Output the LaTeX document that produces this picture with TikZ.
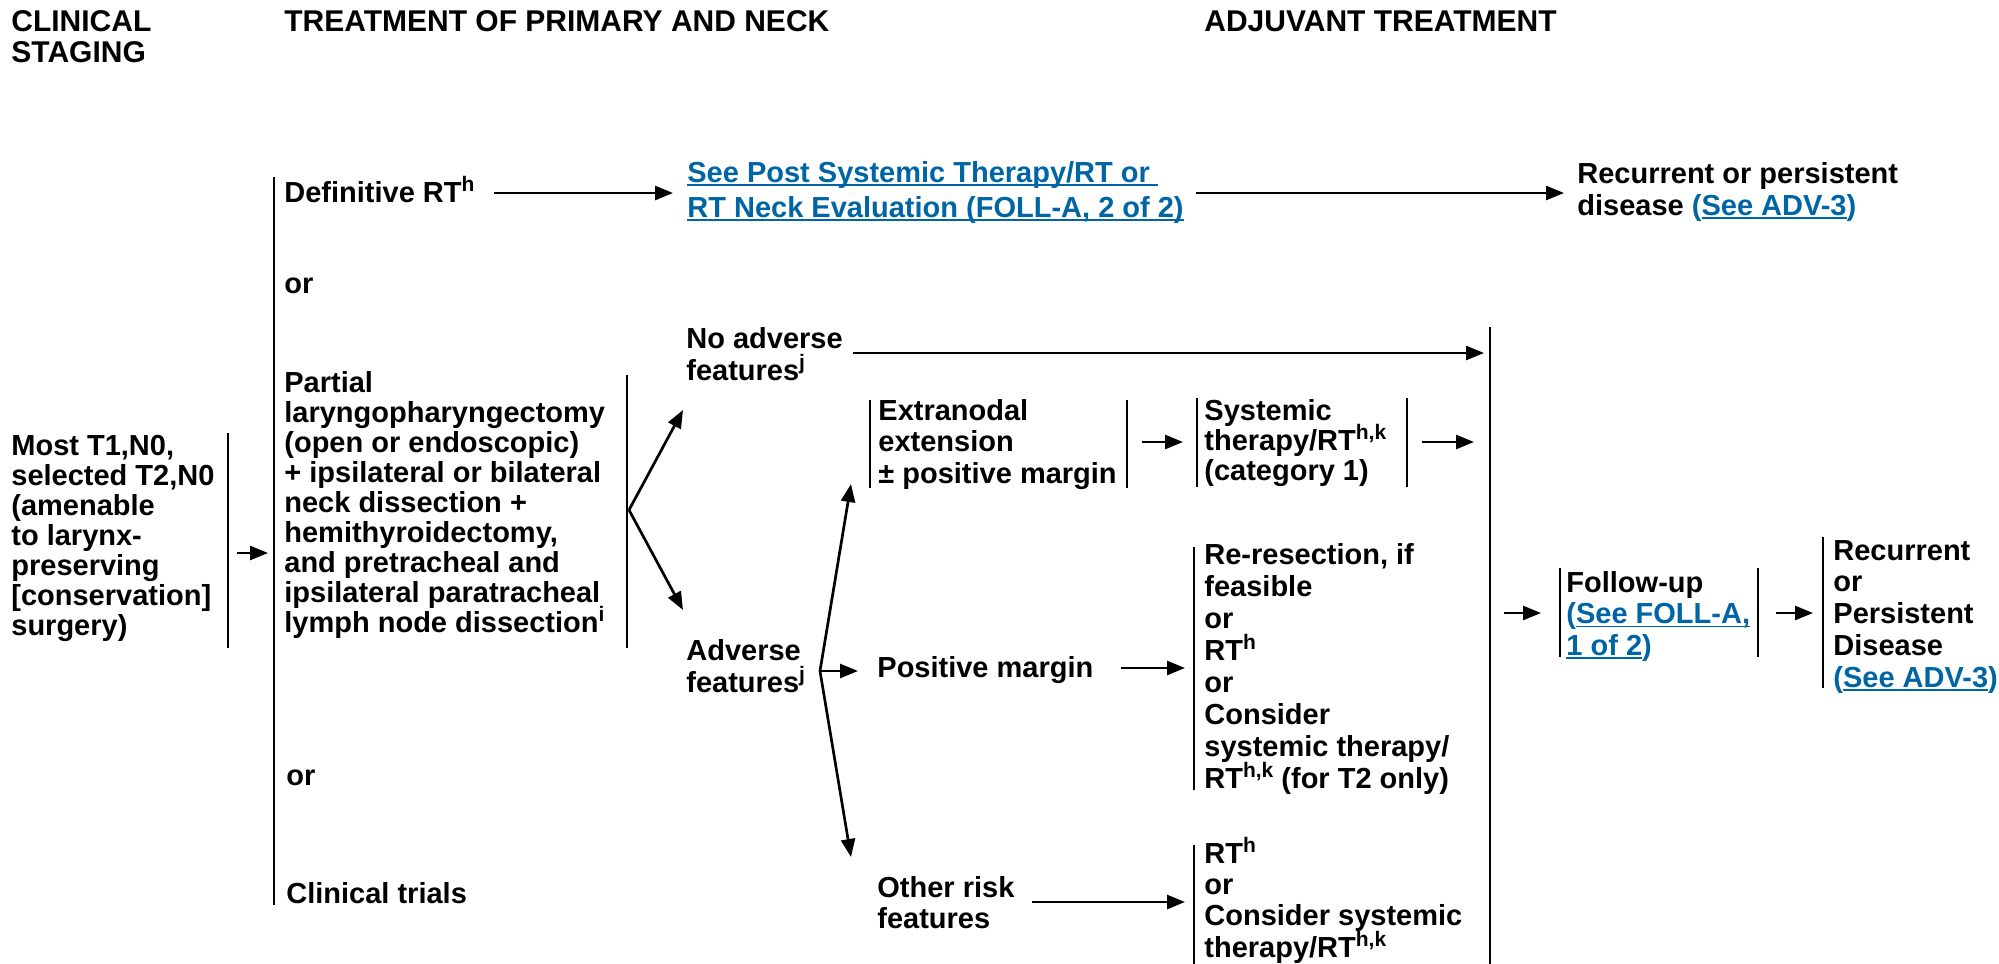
\documentclass[tikz,border=0pt]{standalone}
\usepackage{fontspec}
\setmainfont{Liberation Sans}
\usetikzlibrary{arrows.meta}
\definecolor{nccnblue}{RGB}{0,101,164}
\newsavebox\ulbox
\newcommand\ulink[1]{\sbox\ulbox{#1}\rlap{\rule[-1.9pt]{\wd\ulbox}{0.85pt}}\usebox\ulbox}
\newcommand\supx[1]{\raisebox{5.5pt}[0pt][0pt]{\fontsize{10.5}{10.5}\selectfont #1}}
\begin{document}
\begin{tikzpicture}[x=0.5pt,y=-0.5pt,
  txt/.style={anchor=base west, inner sep=0pt, align=left, font=\bfseries\fontsize{14.5}{15.5}\selectfont},
  lsp/.style={font=\bfseries\fontsize{14.5}{#1}\selectfont},
  hdr/.style={anchor=base west, inner sep=0pt, align=left, font=\bfseries\fontsize{15}{15.5}\selectfont},
  bar/.style={line width=1.15pt},
  arr/.style={line width=1.35pt,-{Triangle[length=9pt,width=7pt]}},
]
\useasboundingbox (0,0) rectangle (1999,964);

% headers (multi-line nodes are placed at the baseline of their last line)
\node[hdr] (hstage) at (11,62) {CLINICAL\\STAGING};
\node[hdr] (hprim) at (284,31) {TREATMENT OF PRIMARY AND NECK};
\node[hdr] (hadj) at (1204,31) {ADJUVANT TREATMENT};

% text nodes
\node[txt] (def) at (284,202) {Definitive RT\supx{h}};
\node[txt, lsp=17.5, text=nccnblue] (post) at (687,217) {\ulink{See Post Systemic Therapy/RT or~}\\\ulink{RT Neck Evaluation (FOLL-A, 2 of 2)}};
\node[txt, lsp=16] (recpers) at (1577,215) {Recurrent or persistent\\disease {\color{nccnblue}(\ulink{See ADV-3})}};
\node[txt] (or1) at (284,293) {or};
\node[txt, lsp=15] (most) at (11,635) {Most T1,N0,\\selected T2,N0\\(amenable\\to larynx-\\preserving\\{[}conservation{]}\\surgery)};
\node[txt, lsp=15] (partial) at (284,632) {Partial\\laryngopharyngectomy\\(open or endoscopic)\\+ ipsilateral or bilateral\\neck dissection +\\hemithyroidectomy,\\and pretracheal and\\ipsilateral paratracheal\\lymph node dissection\supx{i}};
\node[txt, lsp=16] (noadv) at (686,380) {No adverse\\features\supx{j}};
\node[txt, lsp=16] (adv) at (686,692) {Adverse\\features\supx{j}};
\node[txt, lsp=15.75] (extra) at (878,483) {Extranodal\\extension\\± positive margin};
\node[txt, lsp=15] (sys) at (1204,480) {Systemic\\therapy/RT\supx{h,k}\\(category 1)};
\node[txt] (posm) at (877,677) {Positive margin};
\node[txt, lsp=15.93] (reres) at (1204,788) {Re-resection, if\\feasible\\or\\RT\supx{h}\\or\\Consider\\systemic therapy/\\RT\supx{h,k} (for T2 only)};
\node[txt, lsp=15.5] (other) at (877,928) {Other risk\\features};
\node[txt, lsp=15.65] (rtb) at (1204,957) {RT\supx{h}\\or\\Consider systemic\\therapy/RT\supx{h,k}};
\node[txt] (or2) at (286,785) {or};
\node[txt] (trials) at (286,903) {Clinical trials};
\node[txt, lsp=15.75] (foll) at (1566,655) {Follow-up\\{\color{nccnblue}(\ulink{See FOLL-A,}}\\{\color{nccnblue}\ulink{1 of 2})}};
\node[txt, lsp=15.85] (recdis) at (1833,687) {Recurrent\\or\\Persistent\\Disease\\{\color{nccnblue}(\ulink{See ADV-3})}};

% bars
\coordinate (bdT) at (274,177); \coordinate (bdB) at (274,905);
\coordinate (bmT) at (228,433); \coordinate (bmB) at (228,648);
\coordinate (bpT) at (627,375); \coordinate (bpB) at (627,648);
\coordinate (bbT) at (1490,327); \coordinate (bbB) at (1490,964);
\coordinate (beLT) at (870,400); \coordinate (beLB) at (870,488);
\coordinate (beRT) at (1127,400); \coordinate (beRB) at (1127,488);
\coordinate (bsLT) at (1197,398); \coordinate (bsLB) at (1197,487);
\coordinate (bsRT) at (1407,398); \coordinate (bsRB) at (1407,487);
\coordinate (brT) at (1194,547); \coordinate (brB) at (1194,790);
\coordinate (btT) at (1194,845); \coordinate (btB) at (1194,964);
\coordinate (bfLT) at (1560,568); \coordinate (bfLB) at (1560,657);
\coordinate (bfRT) at (1758,568); \coordinate (bfRB) at (1758,657);
\coordinate (bcT) at (1823,537); \coordinate (bcB) at (1823,688);
\foreach \a/\b in {bdT/bdB,bmT/bmB,bpT/bpB,bbT/bbB,beLT/beLB,beRT/beRB,bsLT/bsLB,bsRT/bsRB,brT/brB,btT/btB,bfLT/bfLB,bfRT/bfRB,bcT/bcB}
  \draw[bar] (\a) -- (\b);

% arrow endpoints
\coordinate (a1s) at (494,193);  \coordinate (a1e) at (673,193);
\coordinate (a2s) at (1196,193); \coordinate (a2e) at (1564,193);
\coordinate (a3s) at (237,553);  \coordinate (a3e) at (268,553);
\coordinate (fk) at (629,510);   \coordinate (fku) at (683,410); \coordinate (fkd) at (683,610);
\coordinate (a4s) at (853,353);  \coordinate (a4e) at (1484,353);
\coordinate (a5s) at (1142,442); \coordinate (a5e) at (1183,442);
\coordinate (a6s) at (1422,442); \coordinate (a6e) at (1474,442);
\coordinate (ak) at (820,671);   \coordinate (aku) at (851,484); \coordinate (akr) at (858,671); \coordinate (akd) at (851,857);
\coordinate (a7s) at (1121,668); \coordinate (a7e) at (1185,668);
\coordinate (a8s) at (1032,902); \coordinate (a8e) at (1185,902);
\coordinate (a9s) at (1504,613); \coordinate (a9e) at (1541,613);
\coordinate (a10s) at (1776,613); \coordinate (a10e) at (1813,613);

\draw[arr] (a1s) -- (a1e);
\draw[arr] (a2s) -- (a2e);
\draw[arr] (a3s) -- (a3e);
\draw[arr] (fk) -- (fku);
\draw[arr] (fk) -- (fkd);
\draw[arr] (a4s) -- (a4e);
\draw[arr] (a5s) -- (a5e);
\draw[arr] (a6s) -- (a6e);
\draw[arr] (ak) -- (aku);
\draw[arr] (ak) -- (akr);
\draw[arr] (ak) -- (akd);
\draw[arr] (a7s) -- (a7e);
\draw[arr] (a8s) -- (a8e);
\draw[arr] (a9s) -- (a9e);
\draw[arr] (a10s) -- (a10e);
\end{tikzpicture}
\end{document}
